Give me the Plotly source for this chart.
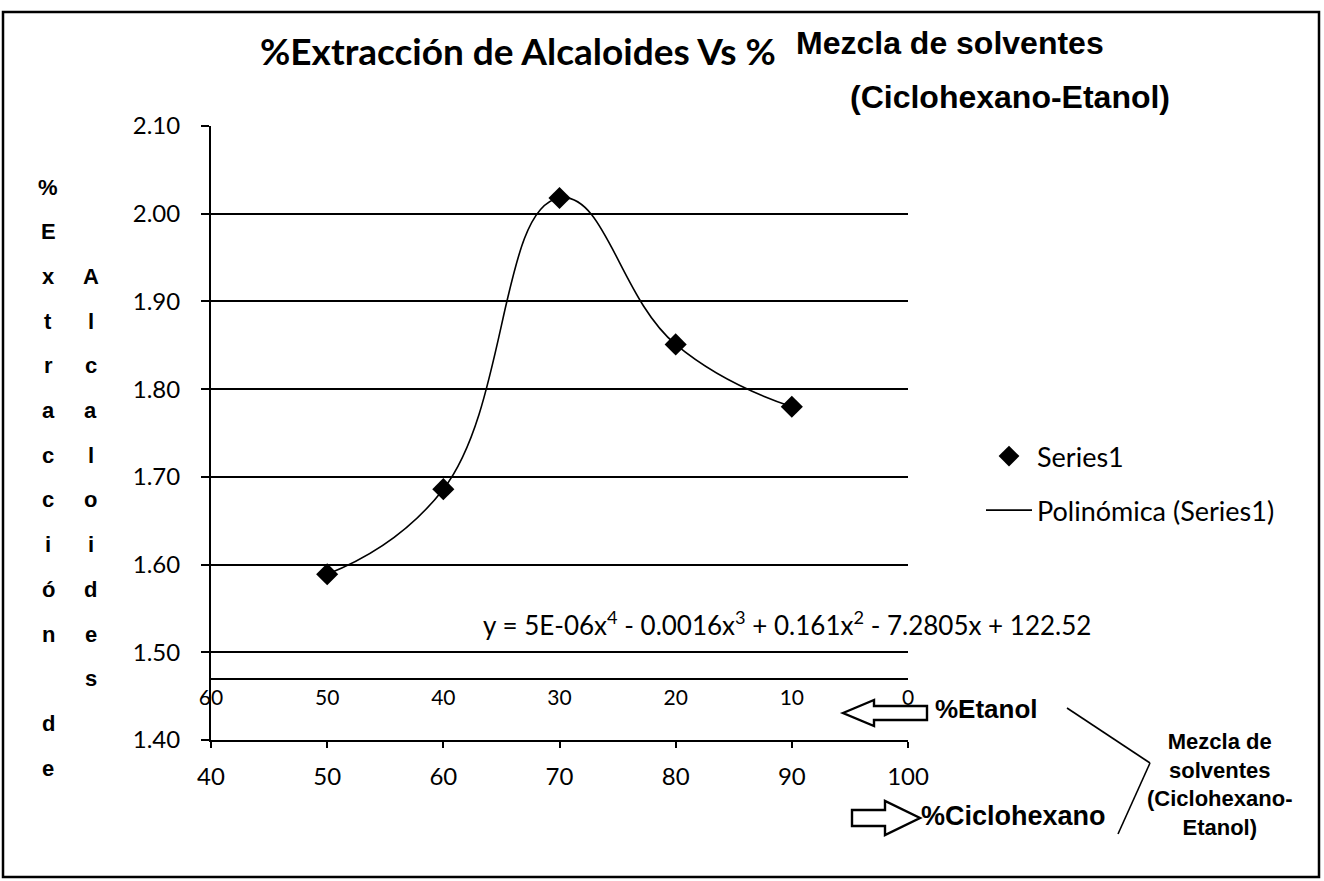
import plotly.graph_objects as go

# ---------------- data ----------------
ciclohexano = [50, 60, 70, 80, 90]                 # % Ciclohexano (primary x)
extraccion = [1.589, 1.686, 2.018, 1.851, 1.780]   # % Extracción de Alcaloides
x_ticks = [40, 50, 60, 70, 80, 90, 100]
y_ticks = [1.40, 1.50, 1.60, 1.70, 1.80, 1.90, 2.00, 2.10]
etanol_ticks = [60, 50, 40, 30, 20, 10, 0]         # % Etanol (secondary x, reversed)
etanol_axis_level = 1.47                           # y value where the %Etanol axis sits

title_a = "%Extracción de Alcaloides Vs %"
title_b = "Mezcla de solventes"
title_c = "(Ciclohexano-Etanol)"
equation = "y = 5E-06x<sup>4</sup> - 0.0016x<sup>3</sup> + 0.161x<sup>2</sup> - 7.2805x + 122.52"
ytitle_col1 = "%Extracción de"
ytitle_col2 = "Alcaloides"

# ---------------- layout geometry ----------------
W, H = 1324, 881
L, R, T, B = 211, 908, 126, 740   # plot area in pixels
PW, PH = R - L, B - T


def px(x):
    return (x - L) / PW


def py(y):
    return (B - y) / PH


CAL = "Lato, Carlito, Calibri, sans-serif"
ARIAL = "Liberation Sans, Arial, sans-serif"

fig = go.Figure()

fig.add_trace(go.Scatter(
    x=ciclohexano, y=extraccion, mode="markers", name="Series1",
    marker=dict(symbol="diamond", size=17, color="black"),
    legendgroup="a",
))
fig.add_trace(go.Scatter(
    x=ciclohexano, y=extraccion, mode="lines", name="Polinómica (Series1)",
    line=dict(color="black", width=1.6, shape="spline", smoothing=1.3),
    legendgroup="b",
))
# carrier for the secondary (%Etanol) axis so that it gets drawn
fig.add_trace(go.Scatter(
    x=etanol_ticks, y=[etanol_axis_level] * len(etanol_ticks), xaxis="x2", yaxis="y",
    mode="markers", marker=dict(opacity=0, size=1), showlegend=False, hoverinfo="skip",
))

annotations = []
# title
annotations.append(dict(text="<b>" + title_a + "</b>", x=px(258), y=py(51), xref="paper", yref="paper",
                        xanchor="left", yanchor="middle", showarrow=False,
                        font=dict(family=CAL, size=37, color="black")))
annotations.append(dict(text="<b>" + title_b + "</b>", x=px(794), y=py(43), xref="paper", yref="paper",
                        xanchor="left", yanchor="middle", showarrow=False,
                        font=dict(family=ARIAL, size=32, color="black")))
annotations.append(dict(text="<b>" + title_c + "</b>", x=px(1172), y=py(97), xref="paper", yref="paper",
                        xanchor="right", yanchor="middle", showarrow=False,
                        font=dict(family=ARIAL, size=32, color="black")))
# equation
annotations.append(dict(text=equation, x=px(481), y=py(623), xref="paper", yref="paper",
                        xanchor="left", yanchor="middle", showarrow=False,
                        font=dict(family=CAL, size=26, color="black")))
# axis names
annotations.append(dict(text="<b>%Etanol</b>", x=px(933), y=py(709), xref="paper", yref="paper",
                        xanchor="left", yanchor="middle", showarrow=False,
                        font=dict(family=ARIAL, size=26, color="black")))
annotations.append(dict(text="<b>%Ciclohexano</b>", x=px(919), y=py(816), xref="paper", yref="paper",
                        xanchor="left", yanchor="middle", showarrow=False,
                        font=dict(family=ARIAL, size=27, color="black")))
annotations.append(dict(text="<b>Mezcla de<br>solventes<br>(Ciclohexano-<br>Etanol)</b>",
                        x=px(1219), y=py(784), xref="paper", yref="paper",
                        xanchor="center", yanchor="middle", showarrow=False, align="center",
                        font=dict(family=ARIAL, size=22, color="black")))
# vertical y-axis title, letter by letter
step = 44.7
for i, ch in enumerate(ytitle_col1):
    if ch.strip():
        annotations.append(dict(text="<b>" + ch + "</b>", x=px(48), y=py(187 + i * step),
                                xref="paper", yref="paper", xanchor="center", yanchor="middle",
                                showarrow=False, font=dict(family=ARIAL, size=22, color="black")))
for i, ch in enumerate(ytitle_col2):
    annotations.append(dict(text="<b>" + ch + "</b>", x=px(91), y=py(187 + (i + 2) * step),
                            xref="paper", yref="paper", xanchor="center", yanchor="middle",
                            showarrow=False, font=dict(family=ARIAL, size=22, color="black")))


def path(points):
    return "M " + " L ".join(f"{px(a):.5f},{py(b):.5f}" for a, b in points) + " Z"


shapes = []
# outer frame
shapes.append(dict(type="rect", xref="paper", yref="paper", x0=px(3), y0=py(12), x1=px(1319), y1=py(877),
                   line=dict(color="black", width=2.5), fillcolor="rgba(0,0,0,0)", layer="below"))
# left hollow arrow (%Etanol)
shapes.append(dict(type="path", xref="paper", yref="paper", layer="below",
                   path=path([(843, 713), (874, 700), (874, 706), (927, 706), (927, 720), (874, 720), (874, 726)]),
                   line=dict(color="black", width=2.4), fillcolor="white"))
# right hollow arrow (%Ciclohexano)
shapes.append(dict(type="path", xref="paper", yref="paper",
                   path=path([(852, 810), (885, 810), (885, 801), (920, 818), (885, 835), (885, 826), (852, 826)]),
                   line=dict(color="black", width=2.4), fillcolor="white"))
# bracket lines to "Mezcla de solventes"
shapes.append(dict(type="line", xref="paper", yref="paper", x0=px(1067), y0=py(708), x1=px(1150), y1=py(763),
                   line=dict(color="black", width=1.6)))
shapes.append(dict(type="line", xref="paper", yref="paper", x0=px(1150), y0=py(763), x1=px(1118), y1=py(834),
                   line=dict(color="black", width=1.6)))

fig.update_layout(
    width=W, height=H, autosize=False,
    margin=dict(l=L, r=W - R, t=T, b=H - B, pad=0),
    paper_bgcolor="white", plot_bgcolor="white",
    font=dict(family=CAL, color="black"),
    showlegend=True,
    legend=dict(x=px(981), y=py(432), xanchor="left", yanchor="top",
                font=dict(family=CAL, size=27, color="black"),
                bgcolor="rgba(0,0,0,0)", tracegroupgap=16, itemwidth=46),
    xaxis=dict(range=[40, 100], tickvals=x_ticks, ticktext=[str(v) for v in x_ticks],
               ticks="outside", ticklen=6, tickwidth=1.5, tickcolor="black",
               showline=True, linecolor="black", linewidth=2, showgrid=False, zeroline=False,
               tickfont=dict(family=CAL, size=24, color="black"), ticklabelstandoff=8),
    yaxis=dict(range=[1.40, 2.10], tickvals=y_ticks, ticktext=[f"{v:.2f}" for v in y_ticks],
               ticks="outside", ticklen=8, tickwidth=1.5, tickcolor="black",
               showline=True, linecolor="black", linewidth=2,
               showgrid=True, gridcolor="black", gridwidth=1.9, zeroline=False,
               tickfont=dict(family=CAL, size=24, color="black"), ticklabelstandoff=16),
    xaxis2=dict(overlaying="x", anchor="free", position=(etanol_axis_level - 1.40) / 0.70, side="bottom",
                range=[60, 0], tickvals=etanol_ticks, ticktext=[str(v) for v in etanol_ticks],
                ticks="", showline=True, linecolor="black", linewidth=2, showgrid=False, zeroline=False,
                tickfont=dict(family=CAL, size=21, color="black"), ticklabelstandoff=0),
    annotations=annotations,
    shapes=shapes,
)

fig.write_html("out.html", config={"displayModeBar": False},
               post_script="document.body.style.margin='0px';")
